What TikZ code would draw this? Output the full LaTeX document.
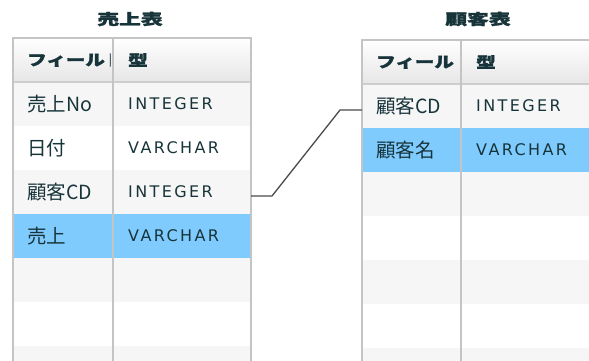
\documentclass[tikz,border=0pt]{standalone}
\usepackage{fontspec}
\setmainfont{Noto Sans CJK JP}
\newfontfamily\heavyf{Noto Sans CJK JP}[FakeBold=1.6]
\newfontfamily\typef{DejaVu Sans}[LetterSpace=15]
\definecolor{bord}{HTML}{C4C4C4}
\definecolor{rowg}{HTML}{F6F6F6}
\definecolor{sel}{HTML}{80CBFE}
\definecolor{txt}{HTML}{17343A}
\definecolor{hdbot}{HTML}{E6E6E6}
\definecolor{hdline}{HTML}{CDCDCD}
\definecolor{link}{HTML}{4A4A4A}
\begin{document}
\begin{tikzpicture}[x=1pt,y=-1pt,
  cell/.style={rectangle, inner sep=0pt, outer sep=0pt, minimum height=44pt, anchor=north west},
  hcell/.style={cell, top color=white, bottom color=hdbot},
  ftxt/.style={anchor=west, inner sep=0pt, font=\fontsize{19.5}{19.5}\selectfont, text=txt},
  ttxt/.style={anchor=west, inner sep=0pt, font=\typef\fontsize{16}{16}\selectfont, text=txt},
  htxt/.style={anchor=west, inner sep=0pt, font=\heavyf\bfseries\fontsize{15}{15}\selectfont, text=txt, xscale=1.3},
  ttl/.style={inner sep=0pt, font=\heavyf\bfseries\fontsize{15}{15}\selectfont, text=txt, xscale=1.45},
  frame/.style={draw=bord, line width=1.5pt},
  sepline/.style={draw=bord, line width=1.2pt},
  hsep/.style={draw=hdline, line width=1.5pt},
  linkline/.style={draw=link, line width=1.3pt}]
\useasboundingbox (0,0) rectangle (589,360);
\clip (0,0) rectangle (589,360);
\fill[white] (0,0) rectangle (589,360);

% ---------- left table ----------
\node[ttl] (ltitle) at (130,19) {売上表};
\node[hcell, minimum width=100pt] (lh1) at (13,38) {};
\node[hcell, minimum width=138pt] (lh2) at (113,38) {};
\foreach \i/\c in {1/rowg,2/white,3/rowg,4/sel,5/rowg,6/white,7/rowg}{
  \node[cell, fill=\c, minimum width=100pt] (lf\i) at (13,{82+44*(\i-1)}) {};
  \node[cell, fill=\c, minimum width=138pt] (lt\i) at (113,{82+44*(\i-1)}) {};
}
\begin{scope}
  \clip (lh1.north west) rectangle ([xshift=-2.5pt]lh1.south east);
  \node[htxt] (lh1t) at ([xshift=14pt]lh1.west) {フィールド};
\end{scope}
\node[htxt] (lh2t) at ([xshift=15pt]lh2.west) {型};
\node[ftxt] (lf1t) at ([xshift=14pt]lf1.west) {売上No};
\node[ftxt] (lf2t) at ([xshift=14pt]lf2.west) {日付};
\node[ftxt] (lf3t) at ([xshift=14pt]lf3.west) {顧客CD};
\node[ftxt] (lf4t) at ([xshift=14pt]lf4.west) {売上};
\node[ttxt] (lt1t) at ([xshift=15pt]lt1.west) {INTEGER};
\node[ttxt] (lt2t) at ([xshift=15pt]lt2.west) {VARCHAR};
\node[ttxt] (lt3t) at ([xshift=15pt]lt3.west) {INTEGER};
\node[ttxt] (lt4t) at ([xshift=15pt]lt4.west) {VARCHAR};
\draw[hsep] (lh1.south west) -- (lh2.south east);
\draw[sepline] (lh1.north east) -- (lf7.south east);
\draw[frame] (lf7.south west) -- (lh1.north west) -- (lh2.north east) -- (lt7.south east);

% ---------- right table ----------
\node[ttl] (rtitle) at (478,19) {顧客表};
\node[hcell, minimum width=99pt] (rh1) at (362,40) {};
\node[hcell, minimum width=133pt] (rh2) at (461,40) {};
\foreach \i/\c in {1/rowg,2/sel,3/rowg,4/white,5/rowg,6/white,7/rowg}{
  \node[cell, fill=\c, minimum width=99pt] (rf\i) at (362,{84+44*(\i-1)}) {};
  \node[cell, fill=\c, minimum width=133pt] (rt\i) at (461,{84+44*(\i-1)}) {};
}
\begin{scope}
  \clip (rh1.north west) rectangle ([xshift=-2.5pt]rh1.south east);
  \node[htxt] (rh1t) at ([xshift=14pt]rh1.west) {フィールド};
\end{scope}
\node[htxt] (rh2t) at ([xshift=15pt]rh2.west) {型};
\node[ftxt] (rf1t) at ([xshift=14pt]rf1.west) {顧客CD};
\node[ftxt] (rf2t) at ([xshift=14pt]rf2.west) {顧客名};
\node[ttxt] (rt1t) at ([xshift=15pt]rt1.west) {INTEGER};
\node[ttxt] (rt2t) at ([xshift=15pt]rt2.west) {VARCHAR};
\draw[hsep] (rh1.south west) -- (rh2.south east);
\draw[sepline] (rh1.north east) -- (rf7.south east);
\draw[frame] (rf7.south west) -- (rh1.north west) -- (rh2.north east) -- (rt7.south east);

% ---------- connector ----------
\draw[linkline] ([yshift=-4pt]lt3.east) -- ++(21,0) -- ([xshift=-22pt,yshift=-4pt]rf1.west) -- ([yshift=-4pt]rf1.west);
\end{tikzpicture}
\end{document}
